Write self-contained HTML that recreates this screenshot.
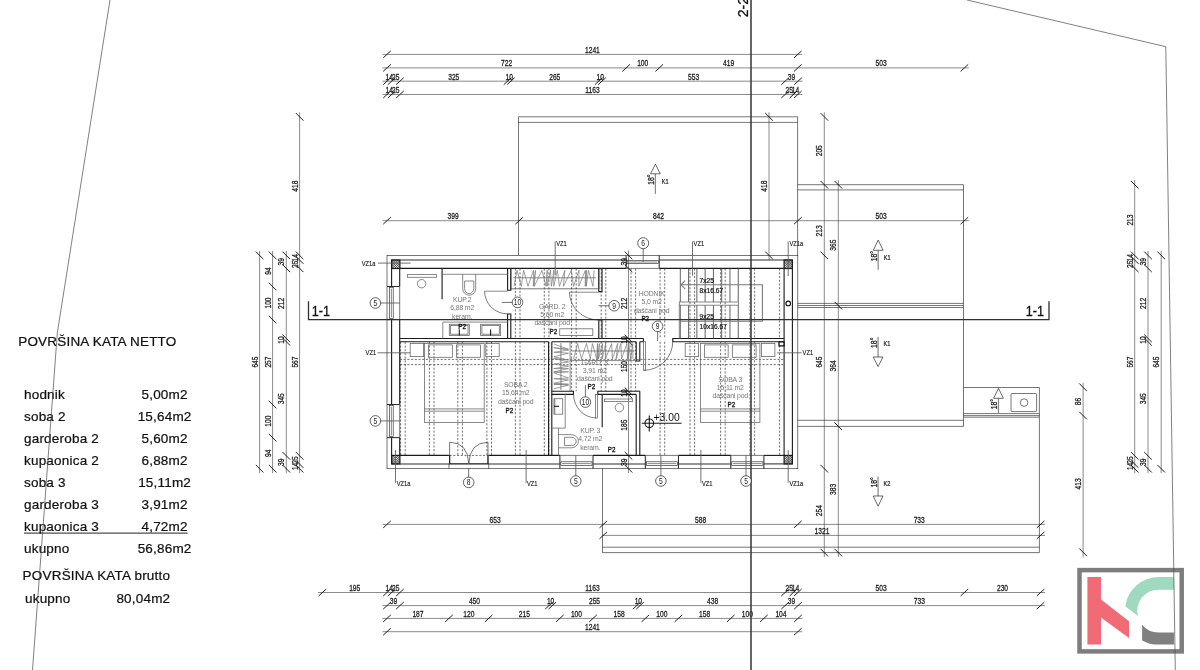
<!DOCTYPE html>
<html lang="hr"><head><meta charset="utf-8"><title>Tlocrt kata</title>
<style>
html,body{margin:0;padding:0;background:#fff}
body{width:1200px;height:670px;overflow:hidden;font-family:"Liberation Sans",sans-serif}
svg{display:block;will-change:transform}
.t{stroke:#2b2b2b;stroke-width:.65;fill:none}
.dl{stroke:#3a3a3a;stroke-width:.6;fill:none}
.tk{stroke:#151515;stroke-width:.95;fill:none}
.m{stroke:#2e2e2e;stroke-width:1.05;fill:none}
.k{stroke:#1a1a1a;stroke-width:1.12;fill:none}
.k2{stroke:#1a1a1a;stroke-width:1.1;fill:none}
.g{stroke:#6b6b6b;stroke-width:.8;fill:none}
.hg{stroke:#777;stroke-width:.7;fill:none;stroke-linejoin:bevel}
.ld{stroke:#5a5a5a;stroke-width:.85;fill:none}
.dr{stroke:#444;stroke-width:.7;fill:none}
.tr{stroke:#3a3a3a;stroke-width:.8;fill:none}
.g2{stroke:#8a8a8a;stroke-width:1.4;fill:none}
.gw{stroke:#7a7a7a;stroke-width:1.1;fill:none}
.a{stroke:#2a2a2a;stroke-width:.7;fill:#fff}
.as{stroke:#8a8a8a;stroke-width:1.25;fill:none}
.b{stroke:#4a4a4a;stroke-width:.7;fill:none}
.ds{stroke:#333;stroke-width:.7;fill:none;stroke-dasharray:2.1 1.6}
.s2{stroke:#333;stroke-width:1.5}
.s1{stroke:#303030;stroke-width:1.3;fill:none}
text{font-family:"Liberation Sans",sans-serif;fill:#1a1a1a}
.d{font-size:8.8px;stroke:#1a1a1a;stroke-width:.28px}
.lab{font-size:6.6px;stroke:#1a1a1a;stroke-width:.2px}
.tg{font-size:8.4px}
.vz{font-size:7px;stroke:#1a1a1a;stroke-width:.15px}
.rm{font-size:6.9px;fill:#777;letter-spacing:-.15px}
.p2{font-size:7.4px;fill:#111;stroke:#111;stroke-width:.32px}
.st{font-size:7.7px;fill:#151515;stroke:#151515;stroke-width:.22px}
.lv{font-size:10.3px;fill:#111}
.sec{font-size:14px;fill:#111;stroke:#111;stroke-width:.3px}
.tb{font-size:13.5px;fill:#111;letter-spacing:.2px;stroke:#111;stroke-width:.22px}
</style></head>
<body>
<svg width="1200" height="670" viewBox="0 0 1200 670">
<rect width="1200" height="670" fill="#fff"/>
<path class="t" d="M518.5,255.4 V116.8 H797.6 V255.4"/>
<line class="t" x1="518.5" y1="122.4" x2="797.6" y2="122.4"/>
<path class="t" d="M797.6,184.7 H963.5 V426.4 H797.6"/>
<line class="t" x1="797.6" y1="189.9" x2="963.5" y2="189.9"/>
<line class="t" x1="797.6" y1="303.4" x2="963.5" y2="303.4"/>
<line class="t" x1="797.6" y1="305.5" x2="963.5" y2="305.5"/>
<line class="t" x1="797.6" y1="307.5" x2="963.5" y2="307.5"/>
<line class="t" x1="797.6" y1="420.3" x2="963.5" y2="420.3"/>
<path class="t" d="M963.5,387.5 H1039.4 V552.6 H602.5 V468.7"/>
<line class="t" x1="963.5" y1="413.6" x2="1039.4" y2="413.6"/>
<line class="t" x1="963.5" y1="415.6" x2="1039.4" y2="415.6"/>
<line class="t" x1="963.5" y1="417.2" x2="1039.4" y2="417.2"/>
<line class="t" x1="602.5" y1="547.2" x2="1039.4" y2="547.2"/>
<rect class="t" x="1011" y="393.5" width="25.6" height="18.1" rx="1"/>
<circle class="t" cx="1024.1" cy="402.6" r="3.8"/>
<line class="as" x1="655.4" y1="173.8" x2="655.4" y2="193.8"/>
<path class="a" d="M655.4,164.2 L650.5,173.8 L660.3,173.8 Z"/>
<text class="d" text-anchor="end" transform="translate(653.9 174.4) rotate(-90) scale(0.78 1)">18°</text>
<text class="lab" text-anchor="start" transform="translate(661.7 183.9) scale(0.85 1)">K1</text>
<line class="as" x1="878.2" y1="250.3" x2="878.2" y2="269.7"/>
<path class="a" d="M878.2,240 L873.3,250.3 L883.1,250.3 Z"/>
<text class="d" text-anchor="end" transform="translate(876.7 250.9) rotate(-90) scale(0.78 1)">18°</text>
<text class="lab" text-anchor="start" transform="translate(883.8 259.7) scale(0.85 1)">K1</text>
<line class="as" x1="878.1" y1="357" x2="878.1" y2="337"/>
<path class="a" d="M878.1,366.6 L873.2,357 L883,357 Z"/>
<text class="d" text-anchor="end" transform="translate(876.6 337.6) rotate(-90) scale(0.78 1)">18°</text>
<text class="lab" text-anchor="start" transform="translate(883.6 346.1) scale(0.85 1)">K1</text>
<line class="as" x1="998.5" y1="398.3" x2="998.5" y2="413"/>
<path class="a" d="M998.5,388.3 L993.6,398.3 L1003.4,398.3 Z"/>
<text class="d" text-anchor="end" transform="translate(997 398.9) rotate(-90) scale(0.78 1)">18°</text>
<line class="as" x1="878.1" y1="496" x2="878.1" y2="476.6"/>
<path class="a" d="M878.1,506.2 L873.2,496 L883,496 Z"/>
<text class="d" text-anchor="end" transform="translate(876.6 477.2) rotate(-90) scale(0.78 1)">18°</text>
<text class="lab" text-anchor="start" transform="translate(883.6 485.7) scale(0.85 1)">K2</text>
<line class="dl" x1="382.5" y1="54.4" x2="802.3" y2="54.4"/>
<line class="tk" x1="383.2" y1="57.9" x2="390.8" y2="50.9"/>
<line class="tk" x1="794" y1="57.9" x2="801.6" y2="50.9"/>
<text class="d" text-anchor="middle" transform="translate(592.4 52.8) scale(0.76 1)">1241</text>
<line class="dl" x1="382.5" y1="67.9" x2="968.89" y2="67.9"/>
<line class="tk" x1="383.2" y1="71.4" x2="390.8" y2="64.4"/>
<line class="tk" x1="622.33" y1="71.4" x2="629.93" y2="64.4"/>
<line class="tk" x1="655.45" y1="71.4" x2="663.05" y2="64.4"/>
<line class="tk" x1="794" y1="71.4" x2="801.6" y2="64.4"/>
<line class="tk" x1="960.59" y1="71.4" x2="968.19" y2="64.4"/>
<text class="d" text-anchor="middle" transform="translate(506.56 66.3) scale(0.76 1)">722</text>
<text class="d" text-anchor="middle" transform="translate(642.69 66.3) scale(0.76 1)">100</text>
<text class="d" text-anchor="middle" transform="translate(728.52 66.3) scale(0.76 1)">419</text>
<text class="d" text-anchor="middle" transform="translate(881.1 66.3) scale(0.76 1)">503</text>
<line class="dl" x1="382.5" y1="81.2" x2="802.52" y2="81.2"/>
<line class="tk" x1="383.2" y1="84.7" x2="390.8" y2="77.7"/>
<line class="tk" x1="387.84" y1="84.7" x2="395.44" y2="77.7"/>
<line class="tk" x1="396.12" y1="84.7" x2="403.72" y2="77.7"/>
<line class="tk" x1="503.76" y1="84.7" x2="511.36" y2="77.7"/>
<line class="tk" x1="507.07" y1="84.7" x2="514.67" y2="77.7"/>
<line class="tk" x1="594.84" y1="84.7" x2="602.44" y2="77.7"/>
<line class="tk" x1="598.15" y1="84.7" x2="605.75" y2="77.7"/>
<line class="tk" x1="781.3" y1="84.7" x2="788.9" y2="77.7"/>
<line class="tk" x1="794.22" y1="84.7" x2="801.82" y2="77.7"/>
<text class="d" text-anchor="middle" transform="translate(389.32 79.6) scale(0.76 1)">14</text>
<text class="d" text-anchor="middle" transform="translate(395.78 79.6) scale(0.76 1)">25</text>
<text class="d" text-anchor="middle" transform="translate(453.74 79.6) scale(0.76 1)">325</text>
<text class="d" text-anchor="middle" transform="translate(509.21 79.6) scale(0.76 1)">10</text>
<text class="d" text-anchor="middle" transform="translate(554.75 79.6) scale(0.76 1)">265</text>
<text class="d" text-anchor="middle" transform="translate(600.29 79.6) scale(0.76 1)">10</text>
<text class="d" text-anchor="middle" transform="translate(693.53 79.6) scale(0.76 1)">553</text>
<text class="d" text-anchor="middle" transform="translate(791.56 79.6) scale(0.76 1)">39</text>
<line class="dl" x1="382.5" y1="94.5" x2="802.3" y2="94.5"/>
<line class="tk" x1="383.2" y1="98" x2="390.8" y2="91"/>
<line class="tk" x1="387.84" y1="98" x2="395.44" y2="91"/>
<line class="tk" x1="396.12" y1="98" x2="403.72" y2="91"/>
<line class="tk" x1="781.3" y1="98" x2="788.9" y2="91"/>
<line class="tk" x1="789.58" y1="98" x2="797.18" y2="91"/>
<line class="tk" x1="794" y1="98" x2="801.6" y2="91"/>
<text class="d" text-anchor="middle" transform="translate(389.32 92.9) scale(0.76 1)">14</text>
<text class="d" text-anchor="middle" transform="translate(395.78 92.9) scale(0.76 1)">25</text>
<text class="d" text-anchor="middle" transform="translate(592.51 92.9) scale(0.76 1)">1163</text>
<text class="d" text-anchor="middle" transform="translate(789.24 92.9) scale(0.76 1)">25</text>
<text class="d" text-anchor="middle" transform="translate(795.59 92.9) scale(0.76 1)">14</text>
<line class="dl" x1="382.5" y1="220.7" x2="968.89" y2="220.7"/>
<line class="tk" x1="383.2" y1="224.2" x2="390.8" y2="217.2"/>
<line class="tk" x1="515.35" y1="224.2" x2="522.95" y2="217.2"/>
<line class="tk" x1="794" y1="224.2" x2="801.6" y2="217.2"/>
<line class="tk" x1="960.59" y1="224.2" x2="968.19" y2="217.2"/>
<text class="d" text-anchor="middle" transform="translate(453.07 219.1) scale(0.76 1)">399</text>
<text class="d" text-anchor="middle" transform="translate(658.47 219.1) scale(0.76 1)">842</text>
<text class="d" text-anchor="middle" transform="translate(881.1 219.1) scale(0.76 1)">503</text>
<line class="dl" x1="769" y1="112.3" x2="769" y2="259.9"/>
<line class="tk" x1="765.2" y1="113" x2="772.8" y2="120.6"/>
<line class="tk" x1="765.2" y1="251.6" x2="772.8" y2="259.2"/>
<text class="d" text-anchor="middle" transform="translate(767 186.1) rotate(-90) scale(0.76 1)">418</text>
<line class="dl" x1="824.3" y1="112.3" x2="824.3" y2="557.1"/>
<line class="tk" x1="820.5" y1="113" x2="828.1" y2="120.6"/>
<line class="tk" x1="820.5" y1="180.9" x2="828.1" y2="188.5"/>
<line class="tk" x1="820.5" y1="251.6" x2="828.1" y2="259.2"/>
<line class="tk" x1="820.5" y1="464.9" x2="828.1" y2="472.5"/>
<line class="tk" x1="820.5" y1="548.8" x2="828.1" y2="556.4"/>
<text class="d" text-anchor="middle" transform="translate(822.3 150.75) rotate(-90) scale(0.76 1)">205</text>
<text class="d" text-anchor="middle" transform="translate(822.3 230.85) rotate(-90) scale(0.76 1)">213</text>
<text class="d" text-anchor="middle" transform="translate(822.3 362.05) rotate(-90) scale(0.76 1)">645</text>
<text class="d" text-anchor="middle" transform="translate(822.3 510.65) rotate(-90) scale(0.76 1)">254</text>
<line class="dl" x1="838.3" y1="180.2" x2="838.3" y2="557.1"/>
<line class="tk" x1="834.5" y1="180.9" x2="842.1" y2="188.5"/>
<line class="tk" x1="834.5" y1="301.8" x2="842.1" y2="309.4"/>
<line class="tk" x1="834.5" y1="422.5" x2="842.1" y2="430.1"/>
<line class="tk" x1="834.5" y1="548.8" x2="842.1" y2="556.4"/>
<text class="d" text-anchor="middle" transform="translate(836.3 245.15) rotate(-90) scale(0.76 1)">365</text>
<text class="d" text-anchor="middle" transform="translate(836.3 365.95) rotate(-90) scale(0.76 1)">364</text>
<text class="d" text-anchor="middle" transform="translate(836.3 489.45) rotate(-90) scale(0.76 1)">383</text>
<line class="dl" x1="259.6" y1="250.9" x2="259.6" y2="473.2"/>
<line class="tk" x1="255.8" y1="251.6" x2="263.4" y2="259.2"/>
<line class="tk" x1="255.8" y1="464.9" x2="263.4" y2="472.5"/>
<text class="d" text-anchor="middle" transform="translate(257.6 362.05) rotate(-90) scale(0.76 1)">645</text>
<line class="dl" x1="272.6" y1="250.9" x2="272.6" y2="473.2"/>
<line class="tk" x1="268.8" y1="251.6" x2="276.4" y2="259.2"/>
<line class="tk" x1="268.8" y1="282.69" x2="276.4" y2="290.29"/>
<line class="tk" x1="268.8" y1="315.76" x2="276.4" y2="323.36"/>
<line class="tk" x1="268.8" y1="400.75" x2="276.4" y2="408.35"/>
<line class="tk" x1="268.8" y1="433.82" x2="276.4" y2="441.42"/>
<line class="tk" x1="268.8" y1="464.9" x2="276.4" y2="472.5"/>
<text class="d" text-anchor="middle" transform="translate(270.6 270.94) rotate(-90) scale(0.76 1)">94</text>
<text class="d" text-anchor="middle" transform="translate(270.6 303.02) rotate(-90) scale(0.76 1)">100</text>
<text class="d" text-anchor="middle" transform="translate(270.6 362.05) rotate(-90) scale(0.76 1)">257</text>
<text class="d" text-anchor="middle" transform="translate(270.6 421.08) rotate(-90) scale(0.76 1)">100</text>
<text class="d" text-anchor="middle" transform="translate(270.6 453.16) rotate(-90) scale(0.76 1)">94</text>
<line class="dl" x1="286.3" y1="250.9" x2="286.3" y2="473.2"/>
<line class="tk" x1="282.5" y1="251.6" x2="290.1" y2="259.2"/>
<line class="tk" x1="282.5" y1="264.5" x2="290.1" y2="272.1"/>
<line class="tk" x1="282.5" y1="334.61" x2="290.1" y2="342.21"/>
<line class="tk" x1="282.5" y1="337.91" x2="290.1" y2="345.51"/>
<line class="tk" x1="282.5" y1="452" x2="290.1" y2="459.6"/>
<line class="tk" x1="282.5" y1="464.9" x2="290.1" y2="472.5"/>
<text class="d" text-anchor="middle" transform="translate(284.3 261.85) rotate(-90) scale(0.76 1)">39</text>
<text class="d" text-anchor="middle" transform="translate(284.3 303.35) rotate(-90) scale(0.76 1)">212</text>
<text class="d" text-anchor="middle" transform="translate(284.3 340.06) rotate(-90) scale(0.76 1)">10</text>
<text class="d" text-anchor="middle" transform="translate(284.3 398.76) rotate(-90) scale(0.76 1)">345</text>
<text class="d" text-anchor="middle" transform="translate(284.3 462.25) rotate(-90) scale(0.76 1)">39</text>
<line class="dl" x1="299.6" y1="112.3" x2="299.6" y2="473.2"/>
<line class="tk" x1="295.8" y1="113" x2="303.4" y2="120.6"/>
<line class="tk" x1="295.8" y1="251.6" x2="303.4" y2="259.2"/>
<line class="tk" x1="295.8" y1="256.23" x2="303.4" y2="263.83"/>
<line class="tk" x1="295.8" y1="264.5" x2="303.4" y2="272.1"/>
<line class="tk" x1="295.8" y1="452" x2="303.4" y2="459.6"/>
<line class="tk" x1="295.8" y1="460.27" x2="303.4" y2="467.87"/>
<line class="tk" x1="295.8" y1="464.9" x2="303.4" y2="472.5"/>
<text class="d" text-anchor="middle" transform="translate(297.6 186.1) rotate(-90) scale(0.76 1)">418</text>
<text class="d" text-anchor="middle" transform="translate(297.6 257.71) rotate(-90) scale(0.76 1)">14</text>
<text class="d" text-anchor="middle" transform="translate(297.6 264.16) rotate(-90) scale(0.76 1)">25</text>
<text class="d" text-anchor="middle" transform="translate(297.6 362.05) rotate(-90) scale(0.76 1)">567</text>
<text class="d" text-anchor="middle" transform="translate(297.6 459.94) rotate(-90) scale(0.76 1)">25</text>
<text class="d" text-anchor="middle" transform="translate(297.6 466.39) rotate(-90) scale(0.76 1)">14</text>
<line class="dl" x1="1134.7" y1="180.2" x2="1134.7" y2="473.2"/>
<line class="tk" x1="1130.9" y1="180.9" x2="1138.5" y2="188.5"/>
<line class="tk" x1="1130.9" y1="251.6" x2="1138.5" y2="259.2"/>
<line class="tk" x1="1130.9" y1="256.23" x2="1138.5" y2="263.83"/>
<line class="tk" x1="1130.9" y1="264.5" x2="1138.5" y2="272.1"/>
<line class="tk" x1="1130.9" y1="452" x2="1138.5" y2="459.6"/>
<line class="tk" x1="1130.9" y1="460.27" x2="1138.5" y2="467.87"/>
<line class="tk" x1="1130.9" y1="464.9" x2="1138.5" y2="472.5"/>
<text class="d" text-anchor="middle" transform="translate(1132.7 220.05) rotate(-90) scale(0.76 1)">213</text>
<text class="d" text-anchor="middle" transform="translate(1132.7 257.71) rotate(-90) scale(0.76 1)">14</text>
<text class="d" text-anchor="middle" transform="translate(1132.7 264.16) rotate(-90) scale(0.76 1)">25</text>
<text class="d" text-anchor="middle" transform="translate(1132.7 362.05) rotate(-90) scale(0.76 1)">567</text>
<text class="d" text-anchor="middle" transform="translate(1132.7 459.94) rotate(-90) scale(0.76 1)">25</text>
<text class="d" text-anchor="middle" transform="translate(1132.7 466.39) rotate(-90) scale(0.76 1)">14</text>
<line class="dl" x1="1148" y1="250.9" x2="1148" y2="473.2"/>
<line class="tk" x1="1144.2" y1="251.6" x2="1151.8" y2="259.2"/>
<line class="tk" x1="1144.2" y1="264.5" x2="1151.8" y2="272.1"/>
<line class="tk" x1="1144.2" y1="334.61" x2="1151.8" y2="342.21"/>
<line class="tk" x1="1144.2" y1="337.91" x2="1151.8" y2="345.51"/>
<line class="tk" x1="1144.2" y1="452" x2="1151.8" y2="459.6"/>
<line class="tk" x1="1144.2" y1="464.9" x2="1151.8" y2="472.5"/>
<text class="d" text-anchor="middle" transform="translate(1146 261.85) rotate(-90) scale(0.76 1)">39</text>
<text class="d" text-anchor="middle" transform="translate(1146 303.35) rotate(-90) scale(0.76 1)">212</text>
<text class="d" text-anchor="middle" transform="translate(1146 340.06) rotate(-90) scale(0.76 1)">10</text>
<text class="d" text-anchor="middle" transform="translate(1146 398.76) rotate(-90) scale(0.76 1)">345</text>
<text class="d" text-anchor="middle" transform="translate(1146 462.25) rotate(-90) scale(0.76 1)">39</text>
<line class="dl" x1="1161.2" y1="250.9" x2="1161.2" y2="473.2"/>
<line class="tk" x1="1157.4" y1="251.6" x2="1165" y2="259.2"/>
<line class="tk" x1="1157.4" y1="464.9" x2="1165" y2="472.5"/>
<text class="d" text-anchor="middle" transform="translate(1159.2 362.05) rotate(-90) scale(0.76 1)">645</text>
<line class="dl" x1="1083.1" y1="382.8" x2="1083.1" y2="557.5"/>
<line class="tk" x1="1079.3" y1="383.5" x2="1086.9" y2="391.1"/>
<line class="tk" x1="1079.3" y1="411.8" x2="1086.9" y2="419.4"/>
<line class="tk" x1="1079.3" y1="548.5" x2="1086.9" y2="556.1"/>
<text class="d" text-anchor="middle" transform="translate(1081.1 401.45) rotate(-90) scale(0.76 1)">86</text>
<text class="d" text-anchor="middle" transform="translate(1081.1 483.95) rotate(-90) scale(0.76 1)">413</text>
<line class="dl" x1="382.5" y1="524.4" x2="1045.1" y2="524.4"/>
<line class="tk" x1="383.2" y1="527.9" x2="390.8" y2="520.9"/>
<line class="tk" x1="599.47" y1="527.9" x2="607.07" y2="520.9"/>
<line class="tk" x1="794" y1="527.9" x2="801.6" y2="520.9"/>
<line class="tk" x1="1036.8" y1="527.9" x2="1044.4" y2="520.9"/>
<text class="d" text-anchor="middle" transform="translate(495.14 522.8) scale(0.76 1)">653</text>
<text class="d" text-anchor="middle" transform="translate(700.54 522.8) scale(0.76 1)">588</text>
<text class="d" text-anchor="middle" transform="translate(919.2 522.8) scale(0.76 1)">733</text>
<line class="dl" x1="602.5" y1="535.4" x2="1045.1" y2="535.4"/>
<line class="tk" x1="599.47" y1="538.9" x2="607.07" y2="531.9"/>
<line class="tk" x1="1036.8" y1="538.9" x2="1044.4" y2="531.9"/>
<text class="d" text-anchor="middle" transform="translate(821.94 533.8) scale(0.76 1)">1321</text>
<line class="dl" x1="317.92" y1="592.5" x2="1045.1" y2="592.5"/>
<line class="tk" x1="318.62" y1="596" x2="326.22" y2="589"/>
<line class="tk" x1="383.2" y1="596" x2="390.8" y2="589"/>
<line class="tk" x1="387.84" y1="596" x2="395.44" y2="589"/>
<line class="tk" x1="396.12" y1="596" x2="403.72" y2="589"/>
<line class="tk" x1="781.3" y1="596" x2="788.9" y2="589"/>
<line class="tk" x1="789.58" y1="596" x2="797.18" y2="589"/>
<line class="tk" x1="794" y1="596" x2="801.6" y2="589"/>
<line class="tk" x1="960.59" y1="596" x2="968.19" y2="589"/>
<line class="tk" x1="1036.8" y1="596" x2="1044.4" y2="589"/>
<text class="d" text-anchor="middle" transform="translate(354.71 590.9) scale(0.76 1)">195</text>
<text class="d" text-anchor="middle" transform="translate(389.32 590.9) scale(0.76 1)">14</text>
<text class="d" text-anchor="middle" transform="translate(395.78 590.9) scale(0.76 1)">25</text>
<text class="d" text-anchor="middle" transform="translate(592.51 590.9) scale(0.76 1)">1163</text>
<text class="d" text-anchor="middle" transform="translate(789.24 590.9) scale(0.76 1)">25</text>
<text class="d" text-anchor="middle" transform="translate(795.59 590.9) scale(0.76 1)">14</text>
<text class="d" text-anchor="middle" transform="translate(881.1 590.9) scale(0.76 1)">503</text>
<text class="d" text-anchor="middle" transform="translate(1002.5 590.9) scale(0.76 1)">230</text>
<line class="dl" x1="382.5" y1="605.6" x2="1045.1" y2="605.6"/>
<line class="tk" x1="383.2" y1="609.1" x2="390.8" y2="602.1"/>
<line class="tk" x1="396.12" y1="609.1" x2="403.72" y2="602.1"/>
<line class="tk" x1="545.16" y1="609.1" x2="552.76" y2="602.1"/>
<line class="tk" x1="548.47" y1="609.1" x2="556.07" y2="602.1"/>
<line class="tk" x1="632.92" y1="609.1" x2="640.52" y2="602.1"/>
<line class="tk" x1="636.24" y1="609.1" x2="643.84" y2="602.1"/>
<line class="tk" x1="781.3" y1="609.1" x2="788.9" y2="602.1"/>
<line class="tk" x1="794.22" y1="609.1" x2="801.82" y2="602.1"/>
<line class="tk" x1="1036.8" y1="609.1" x2="1044.4" y2="602.1"/>
<text class="d" text-anchor="middle" transform="translate(393.46 604) scale(0.76 1)">39</text>
<text class="d" text-anchor="middle" transform="translate(474.44 604) scale(0.76 1)">450</text>
<text class="d" text-anchor="middle" transform="translate(550.61 604) scale(0.76 1)">10</text>
<text class="d" text-anchor="middle" transform="translate(594.5 604) scale(0.76 1)">255</text>
<text class="d" text-anchor="middle" transform="translate(638.38 604) scale(0.76 1)">10</text>
<text class="d" text-anchor="middle" transform="translate(712.57 604) scale(0.76 1)">438</text>
<text class="d" text-anchor="middle" transform="translate(791.56 604) scale(0.76 1)">39</text>
<text class="d" text-anchor="middle" transform="translate(919.31 604) scale(0.76 1)">733</text>
<line class="dl" x1="382.5" y1="618.4" x2="802.52" y2="618.4"/>
<line class="tk" x1="383.2" y1="621.9" x2="390.8" y2="614.9"/>
<line class="tk" x1="445.13" y1="621.9" x2="452.73" y2="614.9"/>
<line class="tk" x1="484.88" y1="621.9" x2="492.48" y2="614.9"/>
<line class="tk" x1="556.09" y1="621.9" x2="563.69" y2="614.9"/>
<line class="tk" x1="589.21" y1="621.9" x2="596.81" y2="614.9"/>
<line class="tk" x1="641.54" y1="621.9" x2="649.14" y2="614.9"/>
<line class="tk" x1="674.66" y1="621.9" x2="682.26" y2="614.9"/>
<line class="tk" x1="726.99" y1="621.9" x2="734.59" y2="614.9"/>
<line class="tk" x1="760.11" y1="621.9" x2="767.71" y2="614.9"/>
<line class="tk" x1="794.22" y1="621.9" x2="801.82" y2="614.9"/>
<text class="d" text-anchor="middle" transform="translate(417.97 616.8) scale(0.76 1)">187</text>
<text class="d" text-anchor="middle" transform="translate(468.81 616.8) scale(0.76 1)">120</text>
<text class="d" text-anchor="middle" transform="translate(524.28 616.8) scale(0.76 1)">215</text>
<text class="d" text-anchor="middle" transform="translate(576.45 616.8) scale(0.76 1)">100</text>
<text class="d" text-anchor="middle" transform="translate(619.17 616.8) scale(0.76 1)">158</text>
<text class="d" text-anchor="middle" transform="translate(661.9 616.8) scale(0.76 1)">100</text>
<text class="d" text-anchor="middle" transform="translate(704.62 616.8) scale(0.76 1)">158</text>
<text class="d" text-anchor="middle" transform="translate(747.35 616.8) scale(0.76 1)">100</text>
<text class="d" text-anchor="middle" transform="translate(780.96 616.8) scale(0.76 1)">104</text>
<line class="dl" x1="382.5" y1="631.7" x2="802.3" y2="631.7"/>
<line class="tk" x1="383.2" y1="635.2" x2="390.8" y2="628.2"/>
<line class="tk" x1="794" y1="635.2" x2="801.6" y2="628.2"/>
<text class="d" text-anchor="middle" transform="translate(592.4 630.1) scale(0.76 1)">1241</text>
<line class="dl" x1="628.5" y1="250.5" x2="628.5" y2="473"/>
<line class="tk" x1="624.7" y1="251.6" x2="632.3" y2="259.2"/>
<line class="tk" x1="624.7" y1="264.5" x2="632.3" y2="272.1"/>
<line class="tk" x1="624.7" y1="334.61" x2="632.3" y2="342.21"/>
<line class="tk" x1="624.7" y1="337.91" x2="632.3" y2="345.51"/>
<line class="tk" x1="624.7" y1="387.52" x2="632.3" y2="395.12"/>
<line class="tk" x1="624.7" y1="390.82" x2="632.3" y2="398.42"/>
<line class="tk" x1="624.7" y1="452" x2="632.3" y2="459.6"/>
<line class="tk" x1="624.7" y1="464.9" x2="632.3" y2="472.5"/>
<text class="d" text-anchor="middle" transform="translate(626.5 261.85) rotate(-90) scale(0.76 1)">39</text>
<text class="d" text-anchor="middle" transform="translate(626.5 303.35) rotate(-90) scale(0.76 1)">212</text>
<text class="d" text-anchor="middle" transform="translate(626.5 340.06) rotate(-90) scale(0.76 1)">10</text>
<text class="d" text-anchor="middle" transform="translate(626.5 366.52) rotate(-90) scale(0.76 1)">150</text>
<text class="d" text-anchor="middle" transform="translate(626.5 392.97) rotate(-90) scale(0.76 1)">10</text>
<text class="d" text-anchor="middle" transform="translate(626.5 425.21) rotate(-90) scale(0.76 1)">185</text>
<text class="d" text-anchor="middle" transform="translate(626.5 462.25) rotate(-90) scale(0.76 1)">39</text>
<line class="ds" x1="400.6" y1="341.8" x2="400.6" y2="455.4"/>
<line class="ds" x1="405.2" y1="341.8" x2="405.2" y2="455.4"/>
<line class="ds" x1="429.4" y1="341.8" x2="429.4" y2="455.4"/>
<line class="ds" x1="434" y1="341.8" x2="434" y2="455.4"/>
<line class="ds" x1="457.8" y1="341.8" x2="457.8" y2="455.4"/>
<line class="ds" x1="462.4" y1="341.8" x2="462.4" y2="455.4"/>
<line class="ds" x1="486.9" y1="341.8" x2="486.9" y2="455.4"/>
<line class="ds" x1="491.5" y1="341.8" x2="491.5" y2="455.4"/>
<line class="ds" x1="515.4" y1="268.6" x2="515.4" y2="338.4"/>
<line class="ds" x1="515.4" y1="341.8" x2="515.4" y2="455.4"/>
<line class="ds" x1="520" y1="268.6" x2="520" y2="338.4"/>
<line class="ds" x1="520" y1="341.8" x2="520" y2="455.4"/>
<line class="ds" x1="544.3" y1="268.6" x2="544.3" y2="338.4"/>
<line class="ds" x1="544.3" y1="341.8" x2="544.3" y2="455.4"/>
<line class="ds" x1="548.9" y1="268.6" x2="548.9" y2="338.4"/>
<line class="ds" x1="548.9" y1="341.8" x2="548.9" y2="455.4"/>
<line class="ds" x1="571.6" y1="268.6" x2="571.6" y2="338.4"/>
<line class="ds" x1="571.6" y1="341.8" x2="571.6" y2="391.2"/>
<line class="ds" x1="576.2" y1="268.6" x2="576.2" y2="338.4"/>
<line class="ds" x1="576.2" y1="341.8" x2="576.2" y2="391.2"/>
<line class="ds" x1="601.2" y1="268.6" x2="601.2" y2="338.4"/>
<line class="ds" x1="601.2" y1="341.8" x2="601.2" y2="391.2"/>
<line class="ds" x1="605.8" y1="268.6" x2="605.8" y2="338.4"/>
<line class="ds" x1="605.8" y1="341.8" x2="605.8" y2="391.2"/>
<line class="ds" x1="631" y1="268.6" x2="631" y2="338.4"/>
<line class="ds" x1="631" y1="341.8" x2="631" y2="391.2"/>
<line class="ds" x1="635.6" y1="268.6" x2="635.6" y2="338.4"/>
<line class="ds" x1="635.6" y1="341.8" x2="635.6" y2="391.2"/>
<line class="ds" x1="660.1" y1="268.6" x2="660.1" y2="338.4"/>
<line class="ds" x1="660.1" y1="341.8" x2="660.1" y2="455.4"/>
<line class="ds" x1="664.7" y1="268.6" x2="664.7" y2="338.4"/>
<line class="ds" x1="664.7" y1="341.8" x2="664.7" y2="455.4"/>
<line class="ds" x1="690" y1="268.6" x2="690" y2="338.4"/>
<line class="ds" x1="690" y1="341.8" x2="690" y2="455.4"/>
<line class="ds" x1="694.6" y1="268.6" x2="694.6" y2="338.4"/>
<line class="ds" x1="694.6" y1="341.8" x2="694.6" y2="455.4"/>
<line class="ds" x1="720.6" y1="268.6" x2="720.6" y2="338.4"/>
<line class="ds" x1="720.6" y1="341.8" x2="720.6" y2="455.4"/>
<line class="ds" x1="725.2" y1="268.6" x2="725.2" y2="338.4"/>
<line class="ds" x1="725.2" y1="341.8" x2="725.2" y2="455.4"/>
<line class="ds" x1="750" y1="268.6" x2="750" y2="338.4"/>
<line class="ds" x1="750" y1="341.8" x2="750" y2="455.4"/>
<line class="ds" x1="754.6" y1="268.6" x2="754.6" y2="338.4"/>
<line class="ds" x1="754.6" y1="341.8" x2="754.6" y2="455.4"/>
<line class="ds" x1="779.6" y1="268.6" x2="779.6" y2="338.4"/>
<line class="ds" x1="779.6" y1="341.8" x2="779.6" y2="455.4"/>
<line class="ds" x1="400" y1="359.4" x2="784" y2="359.4"/>
<line class="ds" x1="400" y1="364.6" x2="784" y2="364.6"/>
<rect class="t" x="387" y="255.4" width="410.8" height="213.3"/>
<clipPath id="c1"><rect x="391.6" y="260" width="8.3" height="8.5"/></clipPath>
<rect x="391.6" y="260" width="8.3" height="8.5" fill="#f4f4f4"/>
<path clip-path="url(#c1)" d="M383.1,260 l8.5,8.5 M391.6,260 l-8.5,8.5 M385.4,260 l8.5,8.5 M393.9,260 l-8.5,8.5 M387.7,260 l8.5,8.5 M396.2,260 l-8.5,8.5 M390,260 l8.5,8.5 M398.5,260 l-8.5,8.5 M392.3,260 l8.5,8.5 M400.8,260 l-8.5,8.5 M394.6,260 l8.5,8.5 M403.1,260 l-8.5,8.5 M396.9,260 l8.5,8.5 M405.4,260 l-8.5,8.5 M399.2,260 l8.5,8.5 M407.7,260 l-8.5,8.5 M401.5,260 l8.5,8.5 M410,260 l-8.5,8.5 M403.8,260 l8.5,8.5 M412.3,260 l-8.5,8.5 M406.1,260 l8.5,8.5 M414.6,260 l-8.5,8.5 " stroke="#222" stroke-width=".62" fill="none"/>
<rect x="391.6" y="260" width="8.3" height="8.5" fill="none" stroke="#151515" stroke-width="1.2"/>
<clipPath id="c2"><rect x="784.1" y="260" width="8.3" height="8.5"/></clipPath>
<rect x="784.1" y="260" width="8.3" height="8.5" fill="#f4f4f4"/>
<path clip-path="url(#c2)" d="M775.6,260 l8.5,8.5 M784.1,260 l-8.5,8.5 M777.9,260 l8.5,8.5 M786.4,260 l-8.5,8.5 M780.2,260 l8.5,8.5 M788.7,260 l-8.5,8.5 M782.5,260 l8.5,8.5 M791,260 l-8.5,8.5 M784.8,260 l8.5,8.5 M793.3,260 l-8.5,8.5 M787.1,260 l8.5,8.5 M795.6,260 l-8.5,8.5 M789.4,260 l8.5,8.5 M797.9,260 l-8.5,8.5 M791.7,260 l8.5,8.5 M800.2,260 l-8.5,8.5 M794,260 l8.5,8.5 M802.5,260 l-8.5,8.5 M796.3,260 l8.5,8.5 M804.8,260 l-8.5,8.5 M798.6,260 l8.5,8.5 M807.1,260 l-8.5,8.5 " stroke="#222" stroke-width=".62" fill="none"/>
<rect x="784.1" y="260" width="8.3" height="8.5" fill="none" stroke="#151515" stroke-width="1.2"/>
<clipPath id="c3"><rect x="391.6" y="455.4" width="8.3" height="8.5"/></clipPath>
<rect x="391.6" y="455.4" width="8.3" height="8.5" fill="#f4f4f4"/>
<path clip-path="url(#c3)" d="M383.1,455.4 l8.5,8.5 M391.6,455.4 l-8.5,8.5 M385.4,455.4 l8.5,8.5 M393.9,455.4 l-8.5,8.5 M387.7,455.4 l8.5,8.5 M396.2,455.4 l-8.5,8.5 M390,455.4 l8.5,8.5 M398.5,455.4 l-8.5,8.5 M392.3,455.4 l8.5,8.5 M400.8,455.4 l-8.5,8.5 M394.6,455.4 l8.5,8.5 M403.1,455.4 l-8.5,8.5 M396.9,455.4 l8.5,8.5 M405.4,455.4 l-8.5,8.5 M399.2,455.4 l8.5,8.5 M407.7,455.4 l-8.5,8.5 M401.5,455.4 l8.5,8.5 M410,455.4 l-8.5,8.5 M403.8,455.4 l8.5,8.5 M412.3,455.4 l-8.5,8.5 M406.1,455.4 l8.5,8.5 M414.6,455.4 l-8.5,8.5 " stroke="#222" stroke-width=".62" fill="none"/>
<rect x="391.6" y="455.4" width="8.3" height="8.5" fill="none" stroke="#151515" stroke-width="1.2"/>
<clipPath id="c4"><rect x="784.1" y="455.4" width="8.3" height="8.5"/></clipPath>
<rect x="784.1" y="455.4" width="8.3" height="8.5" fill="#f4f4f4"/>
<path clip-path="url(#c4)" d="M775.6,455.4 l8.5,8.5 M784.1,455.4 l-8.5,8.5 M777.9,455.4 l8.5,8.5 M786.4,455.4 l-8.5,8.5 M780.2,455.4 l8.5,8.5 M788.7,455.4 l-8.5,8.5 M782.5,455.4 l8.5,8.5 M791,455.4 l-8.5,8.5 M784.8,455.4 l8.5,8.5 M793.3,455.4 l-8.5,8.5 M787.1,455.4 l8.5,8.5 M795.6,455.4 l-8.5,8.5 M789.4,455.4 l8.5,8.5 M797.9,455.4 l-8.5,8.5 M791.7,455.4 l8.5,8.5 M800.2,455.4 l-8.5,8.5 M794,455.4 l8.5,8.5 M802.5,455.4 l-8.5,8.5 M796.3,455.4 l8.5,8.5 M804.8,455.4 l-8.5,8.5 M798.6,455.4 l8.5,8.5 M807.1,455.4 l-8.5,8.5 " stroke="#222" stroke-width=".62" fill="none"/>
<rect x="784.1" y="455.4" width="8.3" height="8.5" fill="none" stroke="#151515" stroke-width="1.2"/>
<line class="m" x1="391.6" y1="260" x2="626.13" y2="260"/>
<line class="m" x1="659.25" y1="260" x2="792.4" y2="260"/>
<line class="k" x1="399.7" y1="268.4" x2="626.13" y2="268.4"/>
<line class="k" x1="659.25" y1="268.4" x2="784.1" y2="268.4"/>
<line class="m" x1="391.6" y1="463.9" x2="448.93" y2="463.9"/>
<line class="m" x1="488.68" y1="463.9" x2="559.89" y2="463.9"/>
<line class="m" x1="593.01" y1="463.9" x2="645.34" y2="463.9"/>
<line class="m" x1="678.46" y1="463.9" x2="730.79" y2="463.9"/>
<line class="m" x1="763.91" y1="463.9" x2="792.4" y2="463.9"/>
<line class="k" x1="399.7" y1="455.4" x2="448.93" y2="455.4"/>
<line class="k" x1="488.68" y1="455.4" x2="559.89" y2="455.4"/>
<line class="k" x1="593.01" y1="455.4" x2="645.34" y2="455.4"/>
<line class="k" x1="678.46" y1="455.4" x2="730.79" y2="455.4"/>
<line class="k" x1="763.91" y1="455.4" x2="784.1" y2="455.4"/>
<line class="k" x1="391.6" y1="260" x2="391.6" y2="286.49"/>
<line class="k" x1="391.6" y1="319.56" x2="391.6" y2="404.55"/>
<line class="k" x1="391.6" y1="437.62" x2="391.6" y2="463.9"/>
<line class="k" x1="399.7" y1="268.4" x2="399.7" y2="286.49"/>
<line class="k" x1="399.7" y1="319.56" x2="399.7" y2="404.55"/>
<line class="k" x1="399.7" y1="437.62" x2="399.7" y2="455.4"/>
<line class="k" x1="792.4" y1="260" x2="792.4" y2="463.9"/>
<line class="k" x1="784.1" y1="268.4" x2="784.1" y2="455.4"/>
<line class="m" x1="559.89" y1="455.4" x2="559.89" y2="468.7"/>
<line class="m" x1="593.01" y1="455.4" x2="593.01" y2="468.7"/>
<line class="t" x1="559.89" y1="455.4" x2="593.01" y2="455.4"/>
<rect class="t" x="560.89" y="461.8" width="31.12" height="3.6"/>
<line class="g" x1="562.09" y1="463.6" x2="590.81" y2="463.6"/>
<line class="m" x1="645.34" y1="455.4" x2="645.34" y2="468.7"/>
<line class="m" x1="678.46" y1="455.4" x2="678.46" y2="468.7"/>
<line class="t" x1="645.34" y1="455.4" x2="678.46" y2="455.4"/>
<rect class="t" x="646.34" y="461.8" width="31.12" height="3.6"/>
<line class="g" x1="647.54" y1="463.6" x2="676.26" y2="463.6"/>
<line class="m" x1="730.79" y1="455.4" x2="730.79" y2="468.7"/>
<line class="m" x1="763.91" y1="455.4" x2="763.91" y2="468.7"/>
<line class="t" x1="730.79" y1="455.4" x2="763.91" y2="455.4"/>
<rect class="t" x="731.79" y="461.8" width="31.12" height="3.6"/>
<line class="g" x1="732.99" y1="463.6" x2="761.71" y2="463.6"/>
<line class="m" x1="626.13" y1="255.4" x2="626.13" y2="268.4"/>
<line class="m" x1="659.25" y1="255.4" x2="659.25" y2="268.4"/>
<line class="t" x1="626.13" y1="268.4" x2="659.25" y2="268.4"/>
<rect class="t" x="627.13" y="260.6" width="31.12" height="2.8"/>
<line class="g" x1="628.33" y1="262" x2="657.05" y2="262"/>
<line class="m" x1="387" y1="286.49" x2="399.7" y2="286.49"/>
<line class="m" x1="387" y1="319.56" x2="399.7" y2="319.56"/>
<line class="t" x1="399.7" y1="286.49" x2="399.7" y2="319.56"/>
<rect class="t" x="389.6" y="287.49" width="3.6" height="31.07"/>
<line class="g" x1="391.4" y1="288.69" x2="391.4" y2="317.36"/>
<line class="m" x1="387" y1="404.55" x2="399.7" y2="404.55"/>
<line class="m" x1="387" y1="437.62" x2="399.7" y2="437.62"/>
<line class="t" x1="399.7" y1="404.55" x2="399.7" y2="437.62"/>
<rect class="t" x="389.6" y="405.55" width="3.6" height="31.07"/>
<line class="g" x1="391.4" y1="406.75" x2="391.4" y2="435.42"/>
<line class="t" x1="448.93" y1="463.9" x2="448.93" y2="468.7"/>
<line class="t" x1="488.68" y1="463.9" x2="488.68" y2="468.7"/>
<line class="k" x1="449.63" y1="454.9" x2="449.63" y2="463.9"/>
<line class="k" x1="487.98" y1="454.9" x2="487.98" y2="463.9"/>
<line class="k" x1="448.93" y1="463.9" x2="488.68" y2="463.9"/>
<line class="ds" x1="449.63" y1="455.4" x2="487.98" y2="455.4"/>
<path class="t" d="M449.63,463.9 V442.2 Q467.81,442.6 468.81,463.4"/>
<path class="t" d="M487.98,463.9 V442.2 Q469.81,442.6 468.81,463.4"/>
<line class="k" x1="399.7" y1="338.5" x2="643.4" y2="338.5"/>
<line class="k" x1="399.7" y1="341.7" x2="548.6" y2="341.7"/>
<line class="k" x1="551.8" y1="341.7" x2="636.2" y2="341.7"/>
<path class="k" d="M639.8,341.7 H643.4 V338.5"/>
<path class="k" d="M784.1,338.5 H672.8 V341.7 H784.1"/>
<path class="k" d="M507.6,268.4 V290.2 H510.8 V268.4"/>
<path class="k" d="M507.6,338.5 V314 H510.8 V338.5"/>
<path class="k" d="M598.8,268.4 V291.6 H602 V268.4"/>
<path class="k" d="M598.8,338.5 V320 H602 V338.5"/>
<line class="k" x1="548.6" y1="341.7" x2="548.6" y2="455.4"/>
<line class="k" x1="551.8" y1="341.7" x2="551.8" y2="455.4"/>
<path class="k" d="M551.8,391.2 H573.4 V394.4 H551.8"/>
<path class="k" d="M636.2,391.2 H597.8 V394.4 H636.2"/>
<path class="k" d="M636.2,341.7 V361 H639.8 V341.7"/>
<path class="k" d="M636.2,394.4 V455.4"/>
<path class="k" d="M639.8,391.2 V455.4"/>
<path class="k" d="M636.2,391.2 H639.8"/>
<rect class="g" x="407.5" y="274.6" width="28.9" height="2.7"/>
<circle class="g" cx="421.6" cy="283.7" r="4.2"/>
<line class="k2" x1="442.1" y1="268.4" x2="442.1" y2="299.3"/>
<line class="g" x1="442.1" y1="274.3" x2="507.6" y2="274.3"/>
<path class="g" d="M462.7,274.3 V288.6 A6.5,6.6 0 0 0 475.7,288.6 V274.3"/>
<path class="g" d="M464.6,281 H473.8 V288.4 A4.6,5.2 0 0 1 464.6,288.4 Z"/>
<line class="g" x1="484.6" y1="291.2" x2="507.6" y2="291.2"/>
<path class="dr" d="M484.6,291.2 A22.6,22.6 0 0 0 507.6,313.8"/>
<path class="g" d="M442.8,338.5 V322.1 H507.6"/>
<rect class="g" x="449.3" y="324.3" width="20" height="11.3"/>
<rect class="g" x="450.6" y="325.4" width="17.4" height="8.8"/>
<line class="k2" x1="459.3" y1="329.5" x2="459.3" y2="335.6"/>
<rect class="g" x="480.6" y="324.3" width="20" height="11.3"/>
<rect class="g" x="481.9" y="325.4" width="17.4" height="8.8"/>
<line class="k2" x1="490.6" y1="329.5" x2="490.6" y2="335.6"/>
<path class="t" d="M510.8,268.4 V288.8 H598.8 V268.4"/>
<line class="g" x1="513.3" y1="277.8" x2="595.8" y2="277.8"/>
<path class="hg" d="M514,286.3 L517.02,270.3 L521.27,286.3 L523.65,270.3 L528.02,286.3 L533.44,270.3 L533.3,286.3 L535.46,270.3 L534.31,286.3 L541.88,270.3 L546.12,286.3 L547.15,270.3 L547.14,286.3 L550.52,270.3 L551.4,286.3 L553.9,270.3 L553.76,286.3 L557.27,270.3 L559.5,286.3 L564.91,270.3 L563.43,286.3 L571.33,270.3 L573.55,286.3 L578.96,270.3 L578.83,286.3 L585.38,270.3 L585.24,286.3 L586.39,270.3 L586.25,286.3 L588.41,270.3 L593,286.3 L594.03,270.3"/>
<line class="g" x1="570.1" y1="341.7" x2="570.1" y2="391.2"/>
<line class="g" x1="570.1" y1="360.6" x2="636.2" y2="360.6"/>
<path class="hg" d="M553.8,344 L568.5,349.23 L553.8,347.7 L568.5,350.2 L553.8,352.25 L568.5,353.2 L553.8,356.8 L568.5,360.03 L553.8,358.5 L568.5,361.98 L553.8,364.03 L568.5,366.28 L553.8,368.58 L568.5,368.55 L553.8,371.83 L568.5,371.8 L553.8,372.8 L568.5,377.98 L553.8,378.73 L568.5,379.93 L553.8,383.28 L568.5,384.23 L553.8,384.25 L568.5,385.2 L553.8,388.8"/>
<path class="hg" d="M573.5,358.8 L577.66,343.6 L581.47,358.8 L586.47,343.6 L590.29,358.8 L592.45,343.6 L596.61,358.8 L597.5,343.6 L597.55,358.8 L599.39,343.6 L598.5,358.8 L602.55,343.6 L602.26,358.8 L605.71,343.6 L605.42,358.8 L611.71,343.6 L612.37,358.8 L617.71,343.6 L616.16,358.8 L620.87,343.6 L621.53,358.8 L626.87,343.6 L627.53,358.8 L628.76,343.6 L630.68,358.8 L632.84,343.6 L632.89,358.8"/>
<line class="g" x1="560.9" y1="343" x2="560.9" y2="390"/>
<line class="g" x1="572" y1="351" x2="634.5" y2="351"/>
<line class="g" x1="569.4" y1="292.2" x2="598.8" y2="292.2"/>
<path class="dr" d="M569.4,292.2 A29.4,28 0 0 0 598.8,320"/>
<rect class="g" x="643.6" y="341.7" width="2" height="28.6"/>
<path class="dr" d="M644,370.3 A29,29 0 0 0 672.8,341.7"/>
<rect class="g" x="595.6" y="394.4" width="2" height="23.6"/>
<path class="dr" d="M596,418 A23,23.6 0 0 1 573.6,394.4"/>
<path class="g" d="M551.8,428.1 H565.2 V394.4"/>
<rect class="g" x="554" y="398.7" width="8.7" height="15.5"/>
<line class="g2" x1="554.6" y1="398.7" x2="554.6" y2="414.2"/>
<line class="k2" x1="554" y1="406.3" x2="559" y2="406.3"/>
<path class="g" d="M558.5,428.1 V455.4"/>
<path class="g" d="M558.5,434.6 H571.4 A7,6.6 0 0 1 571.4,447.8 H558.5"/>
<path class="g" d="M564.5,437.3 H571.6 A4.6,4.1 0 0 1 571.6,445.5 H564.5 Z"/>
<line class="k2" x1="602.2" y1="394.4" x2="602.2" y2="427.2"/>
<rect class="g" x="604.5" y="399" width="28" height="2.6"/>
<circle class="g" cx="619.4" cy="407.6" r="4.2"/>
<rect class="g" x="410.2" y="343.4" width="13.4" height="13.2"/>
<rect class="g" x="485.8" y="343.4" width="13.4" height="13.2"/>
<rect class="g" x="424.5" y="343.4" width="59.7" height="79.1"/>
<rect class="g" x="428.5" y="344.9" width="23.85" height="12.4"/>
<rect class="g" x="456.55" y="344.9" width="23.85" height="12.4"/>
<line class="g" x1="424.5" y1="408.9" x2="484.2" y2="408.9"/>
<line class="g" x1="424.5" y1="411.2" x2="484.2" y2="411.2"/>
<rect class="g" x="685.2" y="343.4" width="13.4" height="13.2"/>
<rect class="g" x="761.5" y="343.4" width="13.4" height="13.2"/>
<rect class="g" x="700.4" y="343.4" width="59.5" height="79.1"/>
<rect class="g" x="704.4" y="344.9" width="23.75" height="12.4"/>
<rect class="g" x="732.35" y="344.9" width="23.75" height="12.4"/>
<line class="g" x1="700.4" y1="408.9" x2="759.9" y2="408.9"/>
<line class="g" x1="700.4" y1="411.2" x2="759.9" y2="411.2"/>
<rect x="779" y="341.9" width="5" height="4" fill="#fff" stroke="#111" stroke-width="1.3"/>
<circle cx="788.2" cy="303.4" r="2.3" fill="#fff" stroke="#111" stroke-width="1.1"/>
<line class="tr" x1="680.3" y1="268.4" x2="680.3" y2="302"/>
<line class="tr" x1="680.3" y1="305.2" x2="680.3" y2="338.5"/>
<line class="tr" x1="688.58" y1="268.4" x2="688.58" y2="302"/>
<line class="tr" x1="688.58" y1="305.2" x2="688.58" y2="338.5"/>
<line class="tr" x1="696.86" y1="268.4" x2="696.86" y2="302"/>
<line class="tr" x1="696.86" y1="305.2" x2="696.86" y2="338.5"/>
<line class="tr" x1="705.14" y1="268.4" x2="705.14" y2="302"/>
<line class="tr" x1="705.14" y1="305.2" x2="705.14" y2="338.5"/>
<line class="tr" x1="713.42" y1="268.4" x2="713.42" y2="302"/>
<line class="tr" x1="713.42" y1="305.2" x2="713.42" y2="338.5"/>
<line class="tr" x1="721.7" y1="268.4" x2="721.7" y2="302"/>
<line class="tr" x1="721.7" y1="305.2" x2="721.7" y2="338.5"/>
<line class="tr" x1="729.98" y1="268.4" x2="729.98" y2="302"/>
<line class="tr" x1="729.98" y1="305.2" x2="729.98" y2="338.5"/>
<line class="tr" x1="738.26" y1="268.4" x2="738.26" y2="302"/>
<line class="tr" x1="738.26" y1="305.2" x2="738.26" y2="338.5"/>
<rect class="g" x="679.3" y="302" width="59.3" height="3.2"/>
<line class="g" x1="679.3" y1="305.2" x2="679.3" y2="338.5"/>
<path class="gw" d="M681,284.8 H762.4 V321.3 H679.5"/>
<path class="gw" d="M685.2,280.7 L681,284.8 L685.2,288.9"/>
<circle class="k2" cx="649.3" cy="423.3" r="4.3"/>
<line class="k2" x1="649.3" y1="415.6" x2="649.3" y2="431.5"/>
<line class="k2" x1="641.8" y1="423.3" x2="681.6" y2="423.3"/>
<text class="lv" text-anchor="start" transform="translate(653.6 421.3) scale(1 1)">+3.00</text>
<line class="s2" x1="751" y1="0" x2="751" y2="670"/>
<path class="s1" d="M308.5,301.2 V319.7 H1049 V301.2"/>
<text class="sec" transform="translate(311.8 316.3) scale(.9 1)">1-1</text>
<text class="sec" transform="translate(1025.8 316.3) scale(.9 1)">1-1</text>
<text class="sec" transform="translate(747.5 17.3) rotate(-90)">2-2</text>
<line class="ld" x1="375.4" y1="303" x2="399.7" y2="303"/>
<circle cx="375.4" cy="303" r="5.3" fill="#fff" stroke="#222" stroke-width=".7"/>
<text class="tg" text-anchor="middle" transform="translate(375.4 305.9) scale(0.8 1)">5</text>
<line class="ld" x1="375.4" y1="420.9" x2="399.7" y2="420.9"/>
<circle cx="375.4" cy="420.9" r="5.3" fill="#fff" stroke="#222" stroke-width=".7"/>
<text class="tg" text-anchor="middle" transform="translate(375.4 423.8) scale(0.8 1)">5</text>
<line class="ld" x1="643.2" y1="243.2" x2="643.2" y2="262"/>
<circle cx="643.2" cy="243.2" r="5.5" fill="#fff" stroke="#222" stroke-width=".7"/>
<text class="tg" text-anchor="middle" transform="translate(643.2 246.1) scale(0.8 1)">6</text>
<line class="ld" x1="468.7" y1="482.4" x2="468.7" y2="468.7"/>
<circle cx="468.7" cy="482.4" r="5.3" fill="#fff" stroke="#222" stroke-width=".7"/>
<text class="tg" text-anchor="middle" transform="translate(468.7 485.3) scale(0.8 1)">8</text>
<line class="ld" x1="575.8" y1="481" x2="575.8" y2="455.4"/>
<circle cx="575.8" cy="481" r="5.3" fill="#fff" stroke="#222" stroke-width=".7"/>
<text class="tg" text-anchor="middle" transform="translate(575.8 483.9) scale(0.8 1)">5</text>
<line class="ld" x1="660.9" y1="481" x2="660.9" y2="455.4"/>
<circle cx="660.9" cy="481" r="5.3" fill="#fff" stroke="#222" stroke-width=".7"/>
<text class="tg" text-anchor="middle" transform="translate(660.9 483.9) scale(0.8 1)">5</text>
<line class="ld" x1="746" y1="481" x2="746" y2="455.4"/>
<circle cx="746" cy="481" r="5.3" fill="#fff" stroke="#222" stroke-width=".7"/>
<text class="tg" text-anchor="middle" transform="translate(746 483.9) scale(0.8 1)">5</text>
<line class="ld" x1="517.5" y1="302.4" x2="501.8" y2="302.4"/>
<circle cx="517.5" cy="302.4" r="5.3" fill="#fff" stroke="#222" stroke-width=".7"/>
<text class="tg" text-anchor="middle" transform="translate(517.5 305.3) scale(0.8 1)">10</text>
<line class="ld" x1="614.2" y1="305.7" x2="598.5" y2="305.7"/>
<circle cx="614.2" cy="305.7" r="5.3" fill="#fff" stroke="#222" stroke-width=".7"/>
<text class="tg" text-anchor="middle" transform="translate(614.2 308.6) scale(0.8 1)">9</text>
<line class="ld" x1="657.6" y1="326.3" x2="657.6" y2="341"/>
<circle cx="657.6" cy="326.3" r="5.3" fill="#fff" stroke="#222" stroke-width=".7"/>
<text class="tg" text-anchor="middle" transform="translate(657.6 329.2) scale(0.8 1)">9</text>
<line class="ld" x1="585.4" y1="402.1" x2="585.4" y2="385.2"/>
<circle cx="585.4" cy="402.1" r="5.3" fill="#fff" stroke="#222" stroke-width=".7"/>
<text class="tg" text-anchor="middle" transform="translate(585.4 405) scale(0.8 1)">10</text>
<line class="ld" x1="378" y1="263.1" x2="410.7" y2="263.1"/>
<text class="vz" text-anchor="start" transform="translate(361.8 265.6) scale(0.82 1)">VZ1a</text>
<line class="ld" x1="377.6" y1="352.8" x2="410.3" y2="352.8"/>
<text class="vz" text-anchor="start" transform="translate(365.6 355.2) scale(0.82 1)">VZ1</text>
<line class="ld" x1="555.2" y1="241.5" x2="555.2" y2="275"/>
<text class="vz" text-anchor="start" transform="translate(556.2 246.2) scale(0.82 1)">VZ1</text>
<line class="ld" x1="692.5" y1="241.5" x2="692.5" y2="275.8"/>
<text class="vz" text-anchor="start" transform="translate(693.6 246.2) scale(0.82 1)">VZ1</text>
<line class="ld" x1="788.2" y1="241.5" x2="788.2" y2="276"/>
<text class="vz" text-anchor="start" transform="translate(789.4 246.2) scale(0.82 1)">VZ1a</text>
<line class="ld" x1="777.3" y1="352.8" x2="801.6" y2="352.8"/>
<text class="vz" text-anchor="start" transform="translate(802.6 355.2) scale(0.82 1)">VZ1</text>
<line class="ld" x1="395.5" y1="450" x2="395.5" y2="482.8"/>
<text class="vz" text-anchor="start" transform="translate(396.8 486) scale(0.82 1)">VZ1a</text>
<line class="ld" x1="526.1" y1="450" x2="526.1" y2="482.8"/>
<text class="vz" text-anchor="start" transform="translate(527 486) scale(0.82 1)">VZ1</text>
<line class="ld" x1="700.9" y1="450" x2="700.9" y2="482.8"/>
<text class="vz" text-anchor="start" transform="translate(702 486) scale(0.82 1)">VZ1</text>
<line class="ld" x1="788.2" y1="450" x2="788.2" y2="482.8"/>
<text class="vz" text-anchor="start" transform="translate(789.4 486) scale(0.82 1)">VZ1a</text>
<text class="rm" text-anchor="middle" x="462.2" y="302">KUP.2</text>
<text class="rm" text-anchor="middle" x="462.2" y="310.3">6,88 m2</text>
<text class="rm" text-anchor="middle" x="462.2" y="318.6">keram.</text>
<text class="p2" text-anchor="start" transform="translate(458.2 329) scale(0.85 1)">P2</text>
<text class="rm" text-anchor="middle" x="552.2" y="308.7">GARD. 2</text>
<text class="rm" text-anchor="middle" x="552.2" y="317">5,60 m2</text>
<text class="rm" text-anchor="middle" x="552.2" y="325.3">daščani pod</text>
<text class="p2" text-anchor="start" transform="translate(549.6 334.4) scale(0.85 1)">P2</text>
<rect class="g" x="559.7" y="328.8" width="33.1" height="6.7"/>
<text class="rm" text-anchor="middle" x="651.7" y="295.5">HODNIK</text>
<text class="rm" text-anchor="middle" x="651.7" y="304">5,0 m2</text>
<text class="rm" text-anchor="middle" x="651.7" y="312.5">daščani pod</text>
<text class="p2" text-anchor="start" transform="translate(641.4 321.4) scale(0.85 1)">P2</text>
<text class="rm" text-anchor="middle" x="594.8" y="364.6">GARD. 3</text>
<text class="rm" text-anchor="middle" x="594.8" y="373">3,91 m2</text>
<text class="rm" text-anchor="middle" x="594.8" y="381.4">daščani pod</text>
<text class="p2" text-anchor="start" transform="translate(587.6 389.4) scale(0.85 1)">P2</text>
<text class="rm" text-anchor="middle" x="515.7" y="386.7">SOBA 2</text>
<text class="rm" text-anchor="middle" x="515.7" y="395.1">15,64 m2</text>
<text class="rm" text-anchor="middle" x="515.7" y="403.5">daščani pod</text>
<text class="p2" text-anchor="start" transform="translate(505.6 412.6) scale(0.85 1)">P2</text>
<text class="rm" text-anchor="middle" x="730.3" y="381.5">SOBA 3</text>
<text class="rm" text-anchor="middle" x="730.3" y="389.7">15,11 m2</text>
<text class="rm" text-anchor="middle" x="730.3" y="397.9">daščani pod</text>
<text class="p2" text-anchor="start" transform="translate(727.6 406.7) scale(0.85 1)">P2</text>
<text class="rm" text-anchor="middle" x="590.3" y="432.5">KUP. 3</text>
<text class="rm" text-anchor="middle" x="590.3" y="441">4,72 m2</text>
<text class="rm" text-anchor="middle" x="590.3" y="449.5">keram.</text>
<text class="p2" text-anchor="start" transform="translate(607.8 451.6) scale(0.85 1)">P2</text>
<text class="st" text-anchor="start" transform="translate(699.6 282.6) scale(0.86 1)">7x25</text>
<text class="st" text-anchor="start" transform="translate(699.6 292.6) scale(0.86 1)">8x16.67</text>
<text class="st" text-anchor="start" transform="translate(699.6 319.2) scale(0.86 1)">9x25</text>
<text class="st" text-anchor="start" transform="translate(699.6 328.9) scale(0.86 1)">10x16.67</text>
<text class="tb" x="18.2" y="346.2">POVRŠINA KATA NETTO</text>
<text class="tb" x="24" y="398.8">hodnik</text>
<text class="tb" text-anchor="middle" x="164.6" y="398.8">5,00m2</text>
<text class="tb" x="24" y="420.9">soba 2</text>
<text class="tb" text-anchor="middle" x="164.6" y="420.9">15,64m2</text>
<text class="tb" x="24" y="443">garderoba 2</text>
<text class="tb" text-anchor="middle" x="164.6" y="443">5,60m2</text>
<text class="tb" x="24" y="465">kupaonica 2</text>
<text class="tb" text-anchor="middle" x="164.6" y="465">6,88m2</text>
<text class="tb" x="24" y="487">soba 3</text>
<text class="tb" text-anchor="middle" x="164.6" y="487">15,11m2</text>
<text class="tb" x="24" y="509">garderoba 3</text>
<text class="tb" text-anchor="middle" x="164.6" y="509">3,91m2</text>
<text class="tb" x="24" y="531">kupaonica 3</text>
<text class="tb" text-anchor="middle" x="164.6" y="531">4,72m2</text>
<text class="tb" x="24" y="553.2">ukupno</text>
<text class="tb" text-anchor="middle" x="164.6" y="553.2">56,86m2</text>
<line x1="24" y1="533.1" x2="187.6" y2="533.1" stroke="#222" stroke-width="1"/>
<text class="tb" x="22.6" y="579.5">POVRŠINA KATA brutto</text>
<text class="tb" x="25" y="602.8">ukupno</text>
<text class="tb" x="116.4" y="602.8">80,04m2</text>
<g>
<rect x="1079.5" y="570.1" width="102.2" height="81.3" fill="#fff" stroke="#7d7d7d" stroke-width="4.5"/>
<path fill="#f06b76" d="M1087.4,577.1 H1101 V599.4 L1129,621.2 V637.9 L1101,617.4 V644.6 H1087.4 Z"/>
<path fill="#9fd9c0" d="M1174,577.1 H1158.6 A33.4,33.4 0 0 0 1125.3,606.3 L1137.9,616 A21,21 0 0 1 1158.6,589.7 H1174 Z"/>
<path fill="#808080" d="M1174,644.6 H1158.6 A33.4,33.4 0 0 1 1142.1,640.4 V624.8 A21.4,21.4 0 0 0 1158.6,632.6 H1174 Z"/>
</g>
<polyline class="b" points="110,0 57.3,333 32.5,670"/>
<polyline class="b" points="967,0 1165.8,46.7 1175.3,670"/>
</svg>
</body></html>
